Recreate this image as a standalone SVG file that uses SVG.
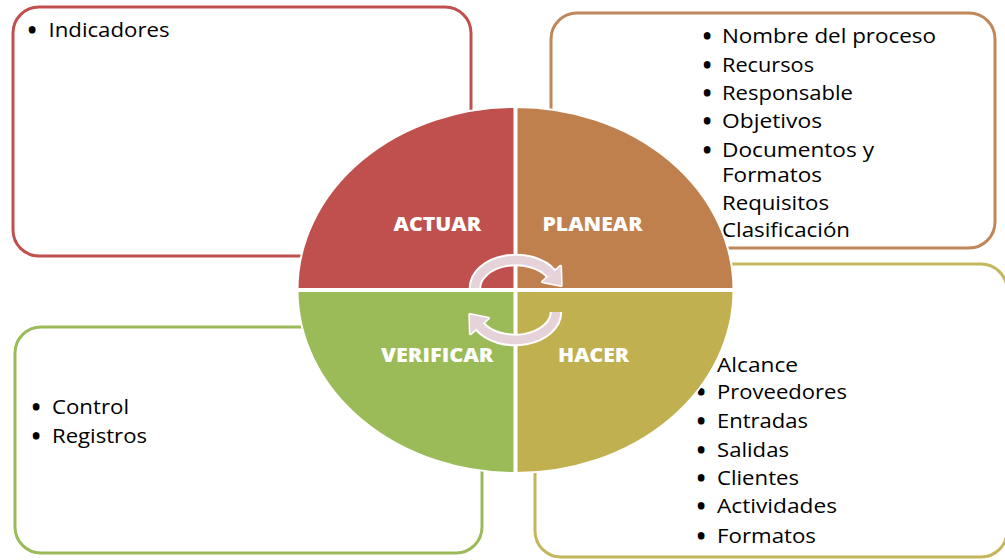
<svg xmlns="http://www.w3.org/2000/svg" width="1005" height="560" viewBox="0 0 1005 560">
<style>
.box{fill:#fff;stroke-width:3}
.t{font-family:"Open Sans","Liberation Sans",sans-serif;font-size:19.5px;font-weight:500;fill:#000}
.b{font-family:"Open Sans","Liberation Sans",sans-serif;font-size:21px;font-weight:800;fill:#000;text-anchor:middle}
.lab{font-family:"Open Sans","Liberation Sans",sans-serif;font-size:19px;font-weight:800;fill:#fff}
.q{stroke:#fff;stroke-width:2}
</style>
<rect width="1005" height="560" fill="#fff"/>
<g id="box-actuar">
<rect class="box" x="13" y="7" width="458" height="249" rx="26" stroke="#c0504d"/>
<text class="b" x="32" y="37.5">•</text>
<text class="t" x="48.5" y="37" textLength="121" lengthAdjust="spacingAndGlyphs">Indicadores</text>
</g>
<g id="box-planear">
<rect class="box" x="551" y="13" width="444" height="235" rx="26" stroke="#c0875a"/>
<text class="b" x="707" y="43.5">•</text>
<text class="t" x="722" y="43" textLength="214" lengthAdjust="spacingAndGlyphs">Nombre del proceso</text>
<text class="b" x="707" y="72.5">•</text>
<text class="t" x="722" y="72" textLength="92" lengthAdjust="spacingAndGlyphs">Recursos</text>
<text class="b" x="707" y="100.5">•</text>
<text class="t" x="722" y="100" textLength="131" lengthAdjust="spacingAndGlyphs">Responsable</text>
<text class="b" x="707" y="128.5">•</text>
<text class="t" x="722" y="128" textLength="100" lengthAdjust="spacingAndGlyphs">Objetivos</text>
<text class="b" x="707" y="157.5">•</text>
<text class="t" x="722" y="157" textLength="152" lengthAdjust="spacingAndGlyphs">Documentos y</text>
<text class="t" x="722" y="182" textLength="100" lengthAdjust="spacingAndGlyphs">Formatos</text>
<text class="t" x="722" y="210" textLength="107" lengthAdjust="spacingAndGlyphs">Requisitos</text>
<text class="t" x="722" y="237" textLength="128" lengthAdjust="spacingAndGlyphs">Clasificación</text>
</g>
<g id="box-verificar">
<rect class="box" x="15" y="327" width="467" height="226" rx="26" stroke="#9bbb59"/>
<text class="b" x="36" y="414.5">•</text>
<text class="t" x="52" y="414" textLength="77" lengthAdjust="spacingAndGlyphs">Control</text>
<text class="b" x="36" y="443.5">•</text>
<text class="t" x="52" y="443" textLength="95" lengthAdjust="spacingAndGlyphs">Registros</text>
</g>
<g id="box-hacer">
<rect class="box" x="535" y="264" width="472" height="293" rx="26" stroke="#c4b65a"/>
<text class="t" x="717" y="372" textLength="81" lengthAdjust="spacingAndGlyphs">Alcance</text>
<text class="b" x="701" y="399.5">•</text>
<text class="t" x="717" y="399" textLength="130" lengthAdjust="spacingAndGlyphs">Proveedores</text>
<text class="b" x="701" y="428.5">•</text>
<text class="t" x="717" y="428" textLength="91" lengthAdjust="spacingAndGlyphs">Entradas</text>
<text class="b" x="701" y="457.5">•</text>
<text class="t" x="717" y="457" textLength="72" lengthAdjust="spacingAndGlyphs">Salidas</text>
<text class="b" x="701" y="485.5">•</text>
<text class="t" x="717" y="485" textLength="82" lengthAdjust="spacingAndGlyphs">Clientes</text>
<text class="b" x="701" y="513.5">•</text>
<text class="t" x="717" y="513" textLength="120" lengthAdjust="spacingAndGlyphs">Actividades</text>
<text class="b" x="701" y="543.5">•</text>
<text class="t" x="717" y="543" textLength="99" lengthAdjust="spacingAndGlyphs">Formatos</text>
</g>
<g id="actuar">
<path class="q" fill="#c0504d" d="M515.5 290 L297.5 290 A218 183 0 0 1 515.5 107 Z"/>
<text class="lab" x="393.5" y="231" textLength="87.5" lengthAdjust="spacingAndGlyphs">ACTUAR</text>
</g>
<g id="planear">
<path class="q" fill="#c0804d" d="M515.5 290 L515.5 107 A218 183 0 0 1 733.5 290 Z"/>
<text class="lab" x="542.5" y="231" textLength="100" lengthAdjust="spacingAndGlyphs">PLANEAR</text>
</g>
<g id="hacer">
<path class="q" fill="#c0b050" d="M515.5 290 L733.5 290 A218 183 0 0 1 515.5 473 Z"/>
<text class="lab" x="558" y="362" textLength="71" lengthAdjust="spacingAndGlyphs">HACER</text>
</g>
<g id="verificar">
<path class="q" fill="#9bbb59" d="M515.5 290 L515.5 473 A218 183 0 0 1 297.5 290 Z"/>
<text class="lab" x="381" y="362" textLength="112.5" lengthAdjust="spacingAndGlyphs">VERIFICAR</text>
</g>
<g id="dividers" stroke="#fff" stroke-width="4">
<line x1="295" y1="290" x2="736" y2="290"/>
<line x1="515.5" y1="105" x2="515.5" y2="475"/>
</g>
<g id="connectors">
<g id="arrow-top">
<path d="M475 288 A41 28 0 0 1 551.5 274" fill="none" stroke="#fff" stroke-width="12.5"/>
<polygon points="542.4,281.8 561.2,285.5 560.6,266.2" fill="#fff" stroke="#fff" stroke-width="3" stroke-linejoin="round"/>
<path d="M475 288 A41 28 0 0 1 551.5 274" fill="none" stroke="#e6d2d9" stroke-width="8.5"/>
<polygon points="542.4,281.8 561.2,285.5 560.6,266.2" fill="#e6d2d9"/>
</g>
<g id="arrow-bottom" transform="rotate(180 515.5 300)">
<path d="M475 288 A41 28 0 0 1 551.5 274" fill="none" stroke="#fff" stroke-width="12.5"/>
<polygon points="542.4,281.8 561.2,285.5 560.6,266.2" fill="#fff" stroke="#fff" stroke-width="3" stroke-linejoin="round"/>
<path d="M475 288 A41 28 0 0 1 551.5 274" fill="none" stroke="#e6d2d9" stroke-width="8.5"/>
<polygon points="542.4,281.8 561.2,285.5 560.6,266.2" fill="#e6d2d9"/>
</g>
</g>
</svg>
